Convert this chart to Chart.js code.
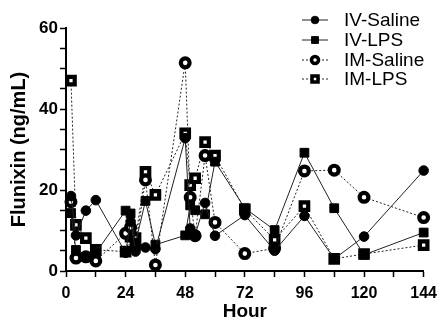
<!DOCTYPE html>
<html>
<head>
<meta charset="utf-8">
<script src="https://cdn.jsdelivr.net/npm/chart.js@4.4.1/dist/chart.umd.min.js"></script>
<style>
  html, body { margin: 0; padding: 0; background: #fff; }
  #wrap { width: 444px; height: 326px; }
</style>
</head>
<body>
<div id="wrap"><canvas id="pkChart" width="444" height="326"></canvas></div>
<script>
// sampling times (h)
const hours = [2, 4, 8, 12, 24, 26, 28, 32, 36, 48, 50, 52, 56, 60, 72, 84, 96, 108, 120, 144];

// flunixin plasma concentration (ng/mL)
const ivSaline = [18.5, 8.8, 14.9, 17.5, 4.5, 12.2, 4.8, 5.8, 5.4, 32.8, 10.5, 9.0, 16.8, 8.7, 13.8, 5.0, 13.6, 3.0, 8.5, 24.8];
const ivLps = [14.3, 5.2, 3.5, 4.5, 14.9, 14.2, 7.0, 17.3, 6.5, 8.8, 16.2, 15.0, 14.0, 27.0, 15.5, 10.1, 29.2, 15.5, 4.0, 9.5];
const imSaline = [17.1, 3.2, 3.5, 2.5, 9.3, 10.8, 6.0, 22.5, 1.5, 51.4, 18.2, 8.7, 28.5, 12.0, 4.3, 5.6, 24.7, 24.9, 18.2, 13.2];
const imLps = [47.0, 11.4, 8.1, 5.2, 4.8, 8.5, 8.1, 24.5, 18.8, 34.0, 21.2, 22.9, 31.8, 28.5, 15.2, 7.7, 16.0, 3.0, 4.2, 6.4];

const groupNames = ["IV-Saline", "IV-LPS", "IM-Saline", "IM-LPS"];
const xTicks = [0, 24, 48, 72, 96, 120, 144];
const yTicks = [0, 20, 40, 60];

const FONT = "'Liberation Sans', Arial, Helvetica, sans-serif";

function pts(vals) {
  return hours.map((h, i) => ({ x: h, y: vals[i] }));
}

// dataset look
const looks = [
  { style: "circle", radius: 4.8, bw: 1, fill: "#000", dash: [] },
  { style: "rect", radius: 6.2, bw: 1, fill: "#000", dash: [] },
  { style: "circle", radius: 4.4, bw: 4.2, fill: "#fff", dash: [2, 2] },
  { style: "rect", radius: 5.3, bw: 4.2, fill: "#fff", dash: [2, 2] },
];

const seriesVals = [ivSaline, ivLps, imSaline, imLps];

const datasets = seriesVals.map((vals, i) => ({
  label: groupNames[i],
  data: pts(vals),
  borderColor: "#222",
  borderWidth: 1,
  borderDash: looks[i].dash,
  pointStyle: looks[i].style,
  pointRadius: looks[i].radius,
  pointBorderWidth: looks[i].bw,
  pointBorderColor: "#000",
  pointBackgroundColor: looks[i].fill,
  tension: 0,
  spanGaps: true,
  clip: false,
}));

// legend drawn in the upper right of the plot
const cornerLegend = {
  id: "cornerLegend",
  afterDraw(chart) {
    const c = chart.ctx;
    const rows = [20, 40, 60, 79];
    c.save();
    chart.data.datasets.forEach((ds, i) => {
      const y = rows[i];
      const lk = looks[i];
      c.strokeStyle = "#222";
      c.lineWidth = 1;
      c.setLineDash(lk.dash);
      c.beginPath();
      c.moveTo(302, y);
      c.lineTo(328, y);
      c.stroke();
      c.setLineDash([]);
      c.fillStyle = lk.fill;
      c.strokeStyle = "#000";
      c.lineWidth = lk.bw * 0.85;
      const r = lk.radius * 0.8;
      c.beginPath();
      if (lk.style === "circle") {
        c.arc(315, y, r, 0, Math.PI * 2);
      } else {
        const s = r * Math.SQRT1_2;
        c.rect(315 - s, y - s, 2 * s, 2 * s);
      }
      c.fill();
      c.stroke();
      c.fillStyle = "#000";
      c.font = "19px " + FONT;
      c.textBaseline = "middle";
      c.textAlign = "left";
      c.fillText(ds.label, 344, y + 1);
    });
    c.restore();
  },
};

const ctx = document.getElementById("pkChart").getContext("2d");

const pkChart = new Chart(ctx, {
  type: "line",
  data: { datasets: datasets },
  plugins: [cornerLegend],
  options: {
    responsive: false,
    animation: false,
    devicePixelRatio: 1,
    layout: { padding: { top: 28, right: 15, left: 0, bottom: 0 } },
    plugins: {
      legend: { display: false },
      tooltip: { enabled: false },
    },
    scales: {
      x: {
        type: "linear",
        min: 0,
        max: 144,
        afterFit(scale) { scale.height = 55; },
        afterBuildTicks(scale) {
          const t = [];
          for (let v = 0; v <= 144; v += 12) t.push({ value: v });
          scale.ticks = t;
        },
        ticks: {
          autoSkip: false,
          maxRotation: 0,
          padding: 7,
          color: "#000",
          font: { family: FONT, size: 16, weight: "bold" },
          callback: (v) => (xTicks.includes(v) ? String(v) : ""),
        },
        grid: {
          drawOnChartArea: false,
          drawTicks: true,
          tickLength: 6,
          tickColor: "#000",
          tickWidth: 1.5,
        },
        border: { display: true, color: "#000", width: 2 },
        title: {
          display: true,
          text: "Hour",
          color: "#000",
          font: { family: FONT, size: 19, weight: "bold" },
          padding: { top: 0, bottom: 3 },
        },
      },
      y: {
        min: 0,
        max: 60,
        afterFit(scale) { scale.width = 66; },
        afterBuildTicks(scale) {
          const t = [];
          for (let v = 0; v <= 60; v += 5) t.push({ value: v });
          scale.ticks = t;
        },
        ticks: {
          autoSkip: false,
          padding: 2,
          color: "#000",
          font: { family: FONT, size: 17, weight: "bold" },
          callback: (v) => (yTicks.includes(v) ? String(v) : ""),
        },
        grid: {
          drawOnChartArea: false,
          drawTicks: true,
          tickLength: 6,
          tickColor: "#000",
          tickWidth: 1.5,
        },
        border: { display: true, color: "#000", width: 2 },
        title: {
          display: true,
          text: "Flunixin (ng/mL)",
          color: "#000",
          font: { family: FONT, size: 20, weight: "bold" },
          padding: { top: 7, bottom: 0 },
        },
      },
    },
  },
});
</script>
</body>
</html>
